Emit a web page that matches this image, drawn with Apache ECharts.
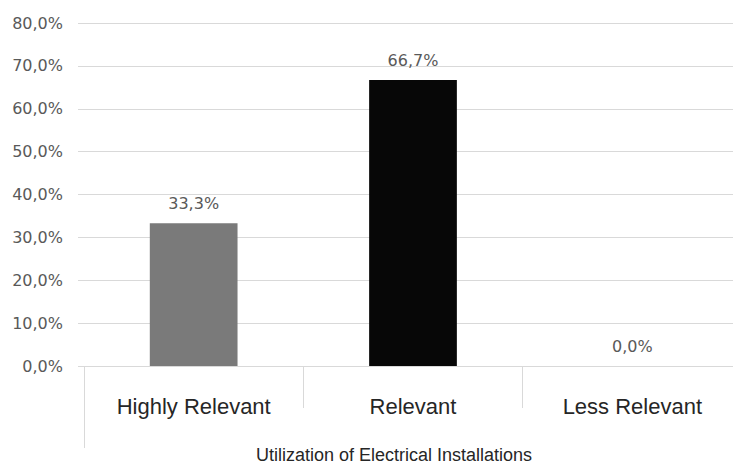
<!DOCTYPE html>
<html>
<head>
<meta charset="utf-8">
<script src="https://cdn.jsdelivr.net/npm/echarts@6/dist/echarts.min.js"></script>
<style>
  html, body { margin: 0; padding: 0; background: #fff; }
  #chart { width: 733px; height: 463px; }
</style>
</head>
<body>
<div id="chart"></div>
<script>
var categories = ['Highly Relevant', 'Relevant', 'Less Relevant'];
var values = [33.3, 66.7, 0.0];
var barColors = ['#7a7a7a', '#070707', '#7a7a7a'];
var axisTitle = 'Utilization of Electrical Installations';

function pct(v) { return Number(v).toFixed(1).replace('.', ',') + '%'; }

var chart = echarts.init(document.getElementById('chart'), null, { renderer: 'svg' });
chart.setOption({
  animation: false,
  title: {
    text: axisTitle,
    left: 389, top: 440, textAlign: 'center',
    textStyle: { fontFamily: 'Liberation Sans', fontSize: 18, fontWeight: 'normal', color: '#262626', lineHeight: 19 }
  },
  grid: { left: 84, right: -9, top: 23, bottom: 97, outerBoundsMode: 'none' },
  xAxis: [
    {
      type: 'category',
      data: categories,
      axisLine: { show: true, lineStyle: { color: '#d9d9d9', width: 1 } },
      axisTick: { show: true, length: 42, alignWithLabel: false, lineStyle: { color: '#d9d9d9' } },
      axisLabel: { margin: 29, fontFamily: 'Liberation Sans', fontSize: 22, color: '#262626' }
    },
    {
      type: 'category',
      position: 'bottom',
      data: [''],
      axisLine: { show: false },
      axisTick: { show: true, length: 82, lineStyle: { color: '#d9d9d9' } },
      axisLabel: { show: false }
    }
  ],
  yAxis: {
    type: 'value',
    min: 0, max: 80, interval: 10,
    axisLine: { show: false },
    axisTick: { show: true, length: 6, lineStyle: { color: '#d9d9d9' } },
    splitLine: { lineStyle: { color: '#d9d9d9', width: 1 } },
    axisLabel: {
      margin: 21, fontFamily: 'DejaVu Sans', fontSize: 16, color: '#595959',
      formatter: pct
    }
  },
  series: [{
    type: 'bar',
    xAxisIndex: 0,
    barWidth: '40%',
    data: values.map(function(v, i) { return { value: v, itemStyle: { color: barColors[i] } }; }),
    label: {
      show: true, position: 'top', distance: 12,
      fontFamily: 'DejaVu Sans', fontSize: 16, color: '#595959',
      formatter: function(p) { return pct(p.value); }
    }
  }]
});
</script>
</body>
</html>
